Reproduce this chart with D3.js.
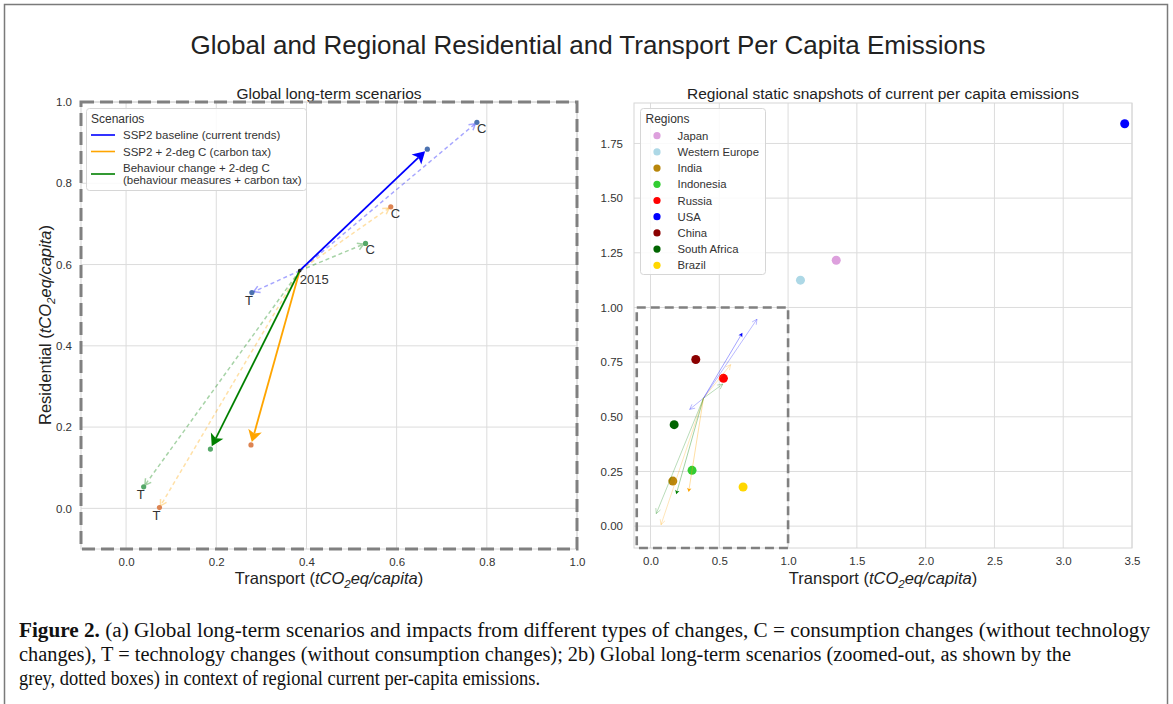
<!DOCTYPE html>
<html>
<head>
<meta charset="utf-8">
<script src="https://cdn.jsdelivr.net/npm/d3@7"></script>
<style>
  body { margin: 0; background: #fff; }
  text { font-family: "Liberation Sans", Arial, sans-serif; }
</style>
</head>
<body>
<script>
// Scenario names (legend of the left panel), one array entry per legend line
var scenarioNames = [
  ["SSP2 baseline (current trends)"],
  ["SSP2 + 2-deg C (carbon tax)"],
  ["Behaviour change + 2-deg C", "(behaviour measures + carbon tax)"]
];
var scenarioColors = ["#0000ff", "#ffa500", "#008000"];
var pointColors = ["#4c72b0", "#dd8452", "#55a868"];

// 2015 starting point (transport, residential)
var base2015 = [0.385, 0.585];

// 2050 end points of the three scenarios
var scenarioTransport = [0.668, 0.277, 0.187];
var scenarioResidential = [0.884, 0.156, 0.146];

// C = consumption changes only
var consumptionTransport = [0.778, 0.587, 0.531];
var consumptionResidential = [0.950, 0.742, 0.652];

// T = technology changes only
var technologyTransport = [0.279, 0.074, 0.039];
var technologyResidential = [0.531, 0.002, 0.053];

// Regional snapshots
var regionNames = ["Japan", "Western Europe", "India", "Indonesia", "Russia", "USA", "China", "South Africa", "Brazil"];
var regionTransport = [1.35, 1.09, 0.162, 0.302, 0.530, 3.447, 0.329, 0.172, 0.673];
var regionResidential = [1.216, 1.125, 0.206, 0.255, 0.676, 1.84, 0.762, 0.464, 0.179];
var regionColors = ["#dda0dd", "#add8e6", "#b8860b", "#32cd32", "#ff0000", "#0000ff", "#8b0000", "#006400", "#ffd700"];

// Tick values
var leftTicks = [0, 0.2, 0.4, 0.6, 0.8, 1.0];
var rightXTicks = [0, 0.5, 1.0, 1.5, 2.0, 2.5, 3.0, 3.5];
var rightYTicks = [0, 0.25, 0.5, 0.75, 1.0, 1.25, 1.5, 1.75];

var captionLines = [
  ["Figure 2.", " (a) Global long-term scenarios and impacts from different types of changes, C = consumption changes (without technology"],
  ["", "changes), T = technology changes (without consumption changes); 2b) Global long-term scenarios (zoomed-out, as shown by the"],
  ["", "grey, dotted boxes) in context of regional current per-capita emissions."]
];

var width = 1173, height = 704;

var svg = d3.select("body").append("svg")
    .attr("width", width)
    .attr("height", height);

svg.append("rect").attr("width", width).attr("height", height).attr("fill", "#fff");

// outer frame of the figure
svg.append("rect")
    .attr("x", 4.5).attr("y", 4.5)
    .attr("width", 1163).attr("height", 720)
    .attr("fill", "none").attr("stroke", "#7a7a7a").attr("stroke-width", 1.5);

// main title
svg.append("text")
    .attr("x", 588).attr("y", 54)
    .attr("text-anchor", "middle")
    .style("font-size", "26px")
    .attr("fill", "#222")
    .text("Global and Regional Residential and Transport Per Capita Emissions");

// Panels: scales
var xLeft = d3.scaleLinear().domain([-0.1, 1.0]).range([81, 577]);
var yLeft = d3.scaleLinear().domain([-0.1, 1.0]).range([549, 102]);
var xRight = d3.scaleLinear().domain([-0.12, 3.5]).range([634, 1132]);
var yRight = d3.scaleLinear().domain([-0.1, 1.935]).range([548, 103]);

function drawFrame(x, y, xTicks, yTicks, xFmt, yFmt, padY) {
  var g = svg.append("g");
  var x0 = x.range()[0], x1 = x.range()[1], y0 = y.range()[0], y1 = y.range()[1];

  // grid
  g.selectAll("line.gx").data(xTicks).enter().append("line")
      .attr("x1", function(d) { return x(d); }).attr("x2", function(d) { return x(d); })
      .attr("y1", y0).attr("y2", y1)
      .attr("stroke", "#dcdcdc").attr("stroke-width", 1);
  g.selectAll("line.gy").data(yTicks).enter().append("line")
      .attr("y1", function(d) { return y(d); }).attr("y2", function(d) { return y(d); })
      .attr("x1", x0).attr("x2", x1)
      .attr("stroke", "#dcdcdc").attr("stroke-width", 1);

  // spines
  g.append("rect")
      .attr("x", x0).attr("y", y1).attr("width", x1 - x0).attr("height", y0 - y1)
      .attr("fill", "none").attr("stroke", "#d6d6d6").attr("stroke-width", 1);

  // axes
  var ax = g.append("g").attr("transform", "translate(0," + y0 + ")")
      .call(d3.axisBottom(x).tickValues(xTicks).tickFormat(d3.format(xFmt)).tickSize(0).tickPadding(9));
  var ay = g.append("g").attr("transform", "translate(" + x0 + ",0)")
      .call(d3.axisLeft(y).tickValues(yTicks).tickFormat(d3.format(yFmt)).tickSize(0).tickPadding(padY));
  [ax, ay].forEach(function(a) {
    a.select(".domain").remove();
    a.selectAll("text")
        .style("font-size", "11.5px")
        .style("font-family", "'Liberation Sans', Arial, sans-serif")
        .attr("fill", "#333");
  });
  return g;
}

// axis label with italic unit and subscript
function unitLabel(sel, word) {
  sel.append("tspan").text(word + " (");
  sel.append("tspan").style("font-style", "italic").text("tCO");
  sel.append("tspan").style("font-style", "italic").style("font-size", "11.5px").attr("dy", 3.5).text("2");
  sel.append("tspan").style("font-style", "italic").attr("dy", -3.5).text("eq/capita");
  sel.append("tspan").text(")");
}

// dashed (zoomed) box from -0.1 to 1.0
function zoomBox(x, y, lw, dash) {
  svg.append("rect")
      .attr("x", x(-0.1)).attr("y", y(1.0))
      .attr("width", x(1.0) - x(-0.1)).attr("height", y(-0.1) - y(1.0))
      .attr("fill", "none").attr("stroke", "#808080")
      .attr("stroke-width", lw).attr("stroke-dasharray", dash);
}

function unit(p0, p1) {
  var dx = p1[0] - p0[0], dy = p1[1] - p0[1], L = Math.sqrt(dx * dx + dy * dy);
  return [dx / L, dy / L];
}

// solid arrow with filled head
function solidArrow(g, p0, p1, color, lw, len, half, back, lineOpacity) {
  var u = unit(p0, p1), n = [-u[1], u[0]];
  var tip = [p1[0] - u[0] * back, p1[1] - u[1] * back];
  var notch = [tip[0] - u[0] * len * 0.75, tip[1] - u[1] * len * 0.75];
  var base = [tip[0] - u[0] * len, tip[1] - u[1] * len];
  g.append("line")
      .attr("x1", p0[0]).attr("y1", p0[1]).attr("x2", notch[0]).attr("y2", notch[1])
      .attr("stroke", color).attr("stroke-width", lw).attr("stroke-opacity", lineOpacity);
  g.append("path")
      .attr("d", "M" + tip + "L" + [base[0] + n[0] * half, base[1] + n[1] * half] +
                 "L" + notch + "L" + [base[0] - n[0] * half, base[1] - n[1] * half] + "Z")
      .attr("fill", color);
}

// dashed arrow with open head
function openArrow(g, p0, p1, color, lw, dash, len, half, back, opacity) {
  var u = unit(p0, p1), n = [-u[1], u[0]];
  var tip = [p1[0] - u[0] * back, p1[1] - u[1] * back];
  var base = [tip[0] - u[0] * len, tip[1] - u[1] * len];
  g.append("line")
      .attr("x1", p0[0]).attr("y1", p0[1]).attr("x2", tip[0]).attr("y2", tip[1])
      .attr("stroke", color).attr("stroke-width", lw).attr("stroke-opacity", opacity)
      .attr("stroke-dasharray", dash);
  g.append("path")
      .attr("d", "M" + [base[0] + n[0] * half, base[1] + n[1] * half] + "L" + tip +
                 "L" + [base[0] - n[0] * half, base[1] - n[1] * half])
      .attr("fill", "none").attr("stroke", color).attr("stroke-width", lw).attr("stroke-opacity", opacity);
}

// ****************** Left panel ***************************
drawFrame(xLeft, yLeft, leftTicks, leftTicks, ".1f", ".1f", 9);

svg.append("text")
    .attr("x", 329).attr("y", 99).attr("text-anchor", "middle")
    .style("font-size", "15.5px").attr("fill", "#222")
    .text("Global long-term scenarios");

var lx = svg.append("text").attr("x", 329).attr("y", 584).attr("text-anchor", "middle")
    .style("font-size", "16.5px").attr("fill", "#222");
unitLabel(lx, "Transport");
var ly = svg.append("text").attr("transform", "translate(51,325) rotate(-90)").attr("text-anchor", "middle")
    .style("font-size", "16.5px").attr("fill", "#222");
unitLabel(ly, "Residential");

var gl = svg.append("g");
var p2015L = [xLeft(base2015[0]), yLeft(base2015[1])];

// dashed arrows to C and T points
scenarioColors.forEach(function(c, i) {
  openArrow(gl, p2015L, [xLeft(consumptionTransport[i]), yLeft(consumptionResidential[i])], c, 1.5, "4,3", 6, 3.5, 2, 0.35);
  openArrow(gl, p2015L, [xLeft(technologyTransport[i]), yLeft(technologyResidential[i])], c, 1.5, "4,3", 6, 3.5, 2, 0.35);
});

// end points
scenarioColors.forEach(function(c, i) {
  [[consumptionTransport[i], consumptionResidential[i]],
   [technologyTransport[i], technologyResidential[i]],
   [scenarioTransport[i], scenarioResidential[i]]].forEach(function(d) {
    gl.append("circle").attr("cx", xLeft(d[0])).attr("cy", yLeft(d[1])).attr("r", 2.6)
        .attr("fill", pointColors[i]);
  });
});

// main scenario arrows
scenarioColors.forEach(function(c, i) {
  solidArrow(gl, p2015L, [xLeft(scenarioTransport[i]), yLeft(scenarioResidential[i])], c, 1.8, 12, 7, 3, 1);
});

gl.append("circle").attr("cx", p2015L[0]).attr("cy", p2015L[1]).attr("r", 1.8).attr("fill", "#222");

// C / T / 2015 labels
gl.append("text").attr("x", p2015L[0]).attr("y", p2015L[1] + 13).style("font-size", "13px").attr("fill", "#333").text("2015");
scenarioColors.forEach(function(c, i) {
  gl.append("text").attr("x", xLeft(consumptionTransport[i])).attr("y", yLeft(consumptionResidential[i]) + 11)
      .style("font-size", "13px").attr("fill", "#333").text("C");
  gl.append("text").attr("x", xLeft(technologyTransport[i]) + 1).attr("y", yLeft(technologyResidential[i]) + 12)
      .attr("text-anchor", "end").style("font-size", "13px").attr("fill", "#333").text("T");
});

zoomBox(xLeft, yLeft, 3, "13,6");

// legend (scenarios)
var lg = svg.append("g");
lg.append("rect").attr("x", 86.5).attr("y", 108.5).attr("width", 220).attr("height", 82).attr("rx", 3)
    .attr("fill", "#fff").attr("fill-opacity", 0.85).attr("stroke", "#d6d6d6");
lg.append("text").attr("x", 91).attr("y", 122.5).style("font-size", "12px").attr("fill", "#333").text("Scenarios");
var rowY = [135, 151.5, 174];
scenarioNames.forEach(function(lines, i) {
  lg.append("line").attr("x1", 91).attr("x2", 115).attr("y1", rowY[i]).attr("y2", rowY[i])
      .attr("stroke", scenarioColors[i]).attr("stroke-width", 1.6);
  lines.forEach(function(t, k) {
    lg.append("text").attr("x", 123).attr("y", rowY[i] + 4 - (lines.length - 1) * 6 + k * 12)
        .style("font-size", "11.5px").attr("fill", "#333").text(t);
  });
});

// ****************** Right panel ***************************
drawFrame(xRight, yRight, rightXTicks, rightYTicks, ".1f", ".2f", 11);

svg.append("text")
    .attr("x", 883).attr("y", 99).attr("text-anchor", "middle")
    .style("font-size", "15.5px").attr("fill", "#222")
    .text("Regional static snapshots of current per capita emissions");

var rx = svg.append("text").attr("x", 883).attr("y", 584).attr("text-anchor", "middle")
    .style("font-size", "16.5px").attr("fill", "#222");
unitLabel(rx, "Transport");

var gr = svg.append("g");
regionNames.forEach(function(n, i) {
  gr.append("circle").attr("cx", xRight(regionTransport[i])).attr("cy", yRight(regionResidential[i]))
      .attr("r", 4.5).attr("fill", regionColors[i]);
});

var p2015R = [xRight(base2015[0]), yRight(base2015[1])];
scenarioColors.forEach(function(c, i) {
  openArrow(gr, p2015R, [xRight(consumptionTransport[i]), yRight(consumptionResidential[i])], c, 0.8, null, 5, 2.5, 1, 0.35);
  openArrow(gr, p2015R, [xRight(technologyTransport[i]), yRight(technologyResidential[i])], c, 0.8, null, 5, 2.5, 1, 0.35);
});
scenarioColors.forEach(function(c, i) {
  solidArrow(gr, p2015R, [xRight(scenarioTransport[i]), yRight(scenarioResidential[i])], c, 0.8, 4, 2.2, 0, 0.45);
});

zoomBox(xRight, yRight, 2.6, "9,5");

// legend (regions)
var rg = svg.append("g");
rg.append("rect").attr("x", 640.5).attr("y", 108.5).attr("width", 125).attr("height", 166).attr("rx", 3)
    .attr("fill", "#fff").attr("fill-opacity", 0.85).attr("stroke", "#d6d6d6");
rg.append("text").attr("x", 645.5).attr("y", 123).style("font-size", "12px").attr("fill", "#333").text("Regions");
regionNames.forEach(function(n, i) {
  var yy = 135.7 + i * 16.2;
  rg.append("circle").attr("cx", 657).attr("cy", yy).attr("r", 3.6).attr("fill", regionColors[i]);
  rg.append("text").attr("x", 677.5).attr("y", yy + 4).style("font-size", "11.3px").attr("fill", "#333").text(n);
});

// ****************** Caption ***************************
var capWidths = [1131, 1052, 521];
captionLines.forEach(function(parts, i) {
  var t = svg.append("text").attr("x", 19).attr("y", 637 + i * 24)
      .attr("textLength", capWidths[i]).attr("lengthAdjust", "spacingAndGlyphs")
      .style("font-family", "'Liberation Serif', 'Times New Roman', serif")
      .style("font-size", "20px").attr("fill", "#111");
  if (parts[0]) t.append("tspan").style("font-weight", "bold").text(parts[0]);
  t.append("tspan").text(parts[1]);
});
</script>
</body>
</html>
